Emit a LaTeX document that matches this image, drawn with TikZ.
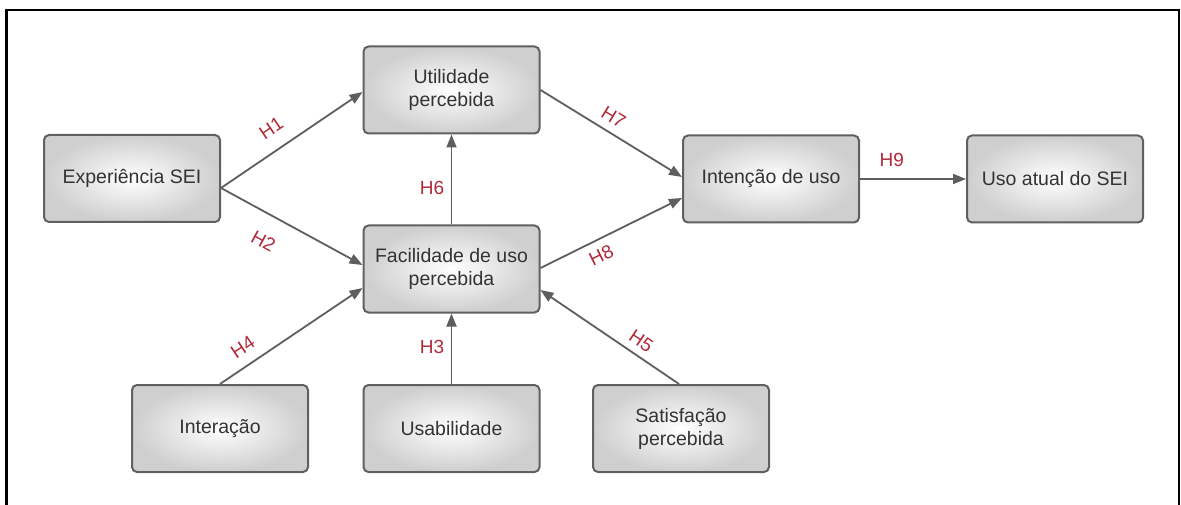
\documentclass[tikz,border=0pt]{standalone}
\usepackage{fontspec}
\setmainfont{Liberation Sans}
\usetikzlibrary{arrows.meta}
\definecolor{txtgray}{HTML}{333333}
\definecolor{hred}{HTML}{B22A3A}
\definecolor{edgegray}{HTML}{5E5E5E}
\definecolor{boxline}{HTML}{606060}
\begin{document}
\begin{tikzpicture}[x=1pt,y=-1pt,
  box/.style={draw=boxline, line width=2pt, rounded corners=5pt,
    minimum width=176pt, minimum height=87pt, inner sep=2pt,
    shading=radial, inner color=white, outer color=black!19,
    text=txtgray, font=\fontsize{19.5}{23}\selectfont, align=center},
  conn/.style={draw=edgegray, line width=1.8pt, -{Triangle[length=13pt,width=10pt]}},
  revconn/.style={draw=edgegray, line width=1.8pt, {Triangle[length=13pt,width=10pt]}-},
  hlbl/.style={text=hred, font=\fontsize{19}{22}\selectfont, inner sep=0pt}]
\useasboundingbox (0,0) rectangle (1181,505);
\fill[white] (0,0) rectangle (1181,505);
\draw[line width=2.5pt, line join=miter] (6.5,506) -- (6.5,10) -- (1179,10) -- (1179,506);

\node[box] (ut) at (451.5,90) {Utilidade\\percebida};
\node[box] (exp) at (132,178.5) {Experiência SEI};
\node[box] (fac) at (451.5,269) {Facilidade de uso\\percebida};
\node[box] (intc) at (771,179) {Intenção de uso};
\node[box] (uso) at (1055,179) {Uso atual do SEI};
\node[box] (inter) at (220,428.5) {Interação};
\node[box] (usab) at (451.5,428.5) {Usabilidade};
\node[box] (sat) at (681,428.5) {Satisfação\\percebida};

\draw[conn] ([yshift=-9.5pt]exp.east) -- node[hlbl, sloped, above=14pt, pos=0.44] {H1} ([yshift=-2pt]ut.west);
\draw[conn] ([yshift=-9.5pt]exp.east) -- node[hlbl, sloped, below=19pt, pos=0.39] {H2} ([yshift=4pt]fac.west);
\draw[conn] (inter.north) -- node[hlbl, sloped, above=10.5pt, pos=0.23] {H4} ([yshift=-19pt]fac.west);
\draw[conn] (usab.north) -- node[hlbl, left=6.5pt, pos=0.52] {H3} (fac.south);
\draw[revconn] ([yshift=-21pt]fac.east) -- node[hlbl, sloped, above=6.5pt, pos=0.67] {H5} ([xshift=-2pt]sat.north);
\draw[conn] (fac.north) -- node[hlbl, left=6.5pt, pos=0.41] {H6} (ut.south);
\draw[conn] (ut.east) -- node[hlbl, sloped, above=8pt, pos=0.46] {H7} ([yshift=2pt]intc.west);
\draw[conn] ([yshift=1pt]fac.east) -- node[hlbl, sloped, below=8pt, pos=0.38] {H8} ([yshift=-19pt]intc.west);
\draw[conn] (intc.east) -- node[hlbl, above=11pt, pos=0.30] {H9} (uso.west);
\end{tikzpicture}
\end{document}
